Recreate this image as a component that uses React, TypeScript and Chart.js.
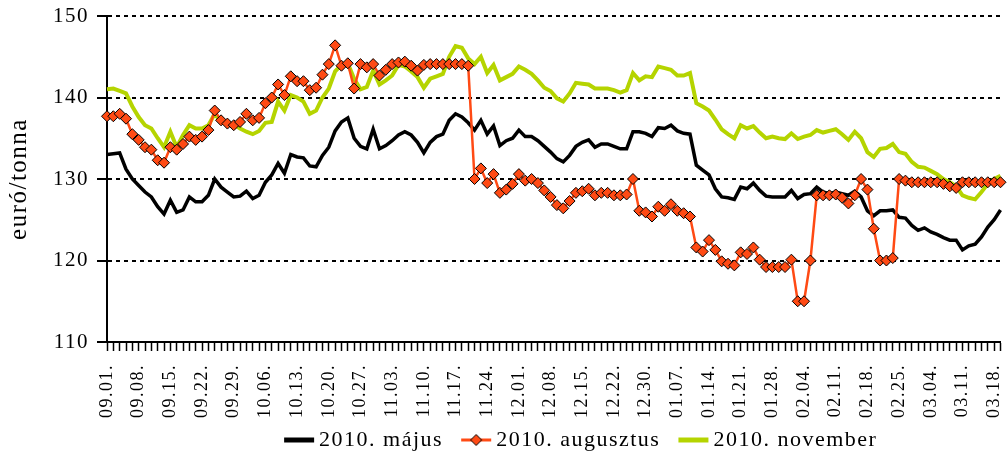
import React, { useEffect, useRef } from 'react';
import { Chart, registerables } from 'chart.js';

Chart.register(...registerables);

const tickLabels = ['09.01.','09.08.','09.15.','09.22.','09.29.','10.06.','10.13.','10.20.','10.27.','11.03.','11.10.','11.17.','11.24.','12.01.','12.08.','12.15.','12.22.','12.30.','01.07.','01.14.','01.21.','01.28.','02.04.','02.11.','02.18.','02.25.','03.04.','03.11.','03.18.'];

const seriesNames = ['2010. május', '2010. augusztus', '2010. november'];

const majus = [
133.0,133.1,133.2,131.2,130.0,129.2,128.4,127.8,126.6,125.7,
127.4,125.9,126.2,127.8,127.2,127.2,128.0,130.0,129.0,128.4,
127.8,127.9,128.5,127.6,128.0,129.6,130.5,131.9,130.7,133.0,
132.7,132.6,131.6,131.5,132.9,133.9,135.9,137.0,137.5,135.0,
134.0,133.7,136.1,133.7,134.1,134.7,135.4,135.8,135.4,134.5,
133.2,134.5,135.2,135.5,137.2,138.0,137.6,136.9,136.0,137.2,
135.5,136.5,134.1,134.7,135.0,136.0,135.2,135.2,134.7,134.0,
133.3,132.5,132.1,132.9,134.0,134.5,134.8,133.9,134.3,134.3,
134.0,133.7,133.7,135.8,135.8,135.6,135.2,136.3,136.2,136.6,
135.9,135.6,135.5,131.7,131.1,130.5,128.8,127.8,127.7,127.5,
129.0,128.8,129.5,128.6,127.9,127.8,127.8,127.8,128.6,127.6,
128.1,128.2,129.0,128.4,128.2,128.4,128.2,128.0,128.5,127.8,
126.1,125.5,126.1,126.1,126.2,125.3,125.2,124.3,123.7,124.0,
123.5,123.2,122.8,122.5,122.5,121.3,121.8,122.0,122.9,124.1,
125.0,126.2];

const augusztus = [
137.7,137.7,138.0,137.4,135.5,134.8,133.9,133.6,132.3,132.0,
133.9,133.6,134.3,135.2,134.8,135.2,136.0,138.4,137.2,136.8,
136.6,137.0,138.0,137.2,137.5,139.3,140.0,141.6,140.3,142.6,
142.0,142.0,140.9,141.2,142.8,144.1,146.4,143.9,144.2,141.1,
144.1,143.7,144.1,142.7,143.4,144.1,144.3,144.4,143.9,143.3,
144.0,144.1,144.1,144.1,144.1,144.1,144.1,143.9,130.0,131.3,
129.5,130.6,128.3,128.7,129.4,130.6,129.8,130.0,129.5,128.6,
127.8,126.8,126.4,127.3,128.3,128.5,128.8,128.0,128.3,128.3,
128.0,128.0,128.1,130.0,126.1,125.9,125.4,126.6,126.1,126.9,
126.1,125.8,125.4,121.6,121.1,122.5,121.3,119.9,119.6,119.4,
121.0,120.8,121.6,120.1,119.2,119.2,119.2,119.2,120.1,115.0,
115.0,120.0,128.0,128.0,128.0,128.1,127.7,127.0,128.0,130.0,
128.7,123.9,120.0,120.0,120.3,130.0,129.8,129.6,129.6,129.6,
129.6,129.6,129.4,129.1,128.9,129.6,129.6,129.6,129.6,129.6,
129.6,129.6];

const november = [
141.0,141.1,140.8,140.5,138.9,137.6,136.6,136.2,135.0,133.9,
135.8,133.9,135.4,136.6,136.2,136.2,136.6,138.0,137.0,136.8,
136.7,136.2,135.8,135.5,135.9,136.9,137.0,139.5,138.4,140.3,
140.0,139.5,138.0,138.4,140.0,141.1,143.2,144.0,144.2,142.3,
141.0,141.3,143.3,141.6,142.1,142.7,144.0,143.8,143.2,142.5,
141.2,142.3,142.6,142.9,145.0,146.3,146.1,144.8,144.1,145.0,
143.0,144.0,142.1,142.5,142.9,143.8,143.4,142.9,142.1,141.2,
140.8,139.9,139.5,140.5,141.8,141.7,141.6,141.1,141.1,141.1,
140.9,140.6,140.9,143.0,142.1,142.6,142.5,143.8,143.6,143.4,
142.7,142.7,143.0,139.3,138.9,138.4,137.3,136.1,135.5,135.0,
136.6,136.2,136.5,135.7,135.0,135.2,135.0,134.9,135.6,134.9,
135.2,135.4,136.0,135.7,135.9,136.1,135.5,134.8,135.8,135.0,
133.3,132.7,133.7,133.8,134.3,133.3,133.1,132.1,131.5,131.4,
131.0,130.6,130.0,129.6,129.1,128.0,127.7,127.5,128.4,129.4,
130.0,130.4];

const LABEL_EVERY = 5;
const categories = majus.map((_, i) => (i % LABEL_EVERY === 0 ? tickLabels[i / LABEL_EVERY] ?? '' : ''));

const FONT = '"Liberation Serif", "Times New Roman", serif';
const BLACK = '#000000';
const ORANGE = '#ff4a14';
const GREEN = '#b5d400';

function swatch(color: string, width: number, diamond: boolean): HTMLCanvasElement {
  const c = document.createElement('canvas');
  c.width = 32;
  c.height = 16;
  const g = c.getContext('2d')!;
  g.strokeStyle = color;
  g.lineWidth = width;
  g.beginPath();
  g.moveTo(1, 8);
  g.lineTo(31, 8);
  g.stroke();
  if (diamond) {
    g.fillStyle = color;
    g.strokeStyle = '#000';
    g.lineWidth = 1;
    g.beginPath();
    g.moveTo(16, 2.5);
    g.lineTo(21.5, 8);
    g.lineTo(16, 13.5);
    g.lineTo(10.5, 8);
    g.closePath();
    g.fill();
    g.stroke();
  }
  return c;
}

const layoutPlugin = {
  id: 'refLayout',
  beforeUpdate(chart: any) {
    chart.ctx.letterSpacing = '1.5px';
  },
  afterLayout(chart: any) {
    // let the rotated date labels draw below the x scale box without being clipped
    const x = chart.scales.x;
    if (x) {
      x.bottom = chart.height;
      x.height = x.bottom - x.top;
    }
    // nudge the legend row to the right, as in the reference
    const lg = chart.legend;
    if (lg) {
      lg.left += 30;
      lg.right += 30;
    }
  },
  beforeDraw(chart: any) {
    chart.ctx.letterSpacing = '1.5px';
  },
};

export default function App() {
  const ref = useRef<HTMLCanvasElement | null>(null);

  useEffect(() => {
    if (!ref.current) return;
    const swatches = [swatch(BLACK, 5, false), swatch(ORANGE, 3, true), swatch(GREEN, 5, false)];
    const chart = new Chart(ref.current, {
      type: 'line',
      data: {
        labels: categories,
        datasets: [
          {
            label: seriesNames[0],
            data: majus,
            borderColor: BLACK,
            backgroundColor: BLACK,
            borderWidth: 3.5,
            pointRadius: 0,
            tension: 0,
            order: 2,
          },
          {
            label: seriesNames[1],
            data: augusztus,
            borderColor: ORANGE,
            backgroundColor: ORANGE,
            borderWidth: 2.5,
            pointStyle: 'rectRot',
            pointRadius: 5.5,
            pointBackgroundColor: ORANGE,
            pointBorderColor: '#000',
            pointBorderWidth: 1,
            tension: 0,
            order: 0,
            clip: false as any,
          },
          {
            label: seriesNames[2],
            data: november,
            borderColor: GREEN,
            backgroundColor: GREEN,
            borderWidth: 4,
            pointRadius: 0,
            tension: 0,
            order: 1,
          },
        ],
      },
      options: {
        responsive: false,
        animation: false,
        layout: { padding: { top: 16, right: 4, bottom: -8, left: 0 } },
        plugins: {
          tooltip: { enabled: false },
          legend: {
            position: 'bottom',
            fullSize: false,
            labels: {
              color: '#000',
              font: { family: FONT, size: 22 },
              usePointStyle: true,
              pointStyleWidth: 18,
              padding: 24,
              generateLabels: (c: any) => {
                const items = (Chart.defaults.plugins.legend.labels as any).generateLabels(c);
                return items
                  .sort((a: any, b: any) => a.datasetIndex - b.datasetIndex)
                  .map((it: any) => ({ ...it, pointStyle: swatches[it.datasetIndex], fontColor: '#000' }));
              },
            },
          },
        },
        scales: {
          x: {
            type: 'category',
            offset: false,
            grid: {
              drawOnChartArea: false,
              drawTicks: true,
              tickLength: 9,
              tickColor: '#000',
              tickWidth: 1.5,
            },
            border: { display: true, color: '#000', width: 2 },
            ticks: {
              autoSkip: false,
              minRotation: 90,
              maxRotation: 90,
              padding: 13,
              color: '#000',
              font: { family: FONT, size: 18 },
              callback: (_v: any, i: number) => categories[i],
            },
            afterFit: (s: any) => {
              s.height = 63;
              s.paddingLeft = 0;
              s.paddingRight = 0;
            },
          },
          y: {
            min: 110,
            max: 150,
            grid: {
              color: (ctx: any) => (ctx.tick && ctx.tick.value === 110 ? 'rgba(0,0,0,0)' : '#000'),
              lineWidth: 2,
              drawTicks: true,
              tickLength: 10,
              tickColor: '#000',
              tickWidth: 2,
            },
            border: { display: true, color: '#000', width: 2, dash: [4, 4] },
            ticks: {
              stepSize: 10,
              padding: 8,
              color: '#000',
              font: { family: FONT, size: 21 },
            },
            title: {
              display: true,
              text: 'euró/tonna',
              color: '#000',
              font: { family: FONT, size: 25 },
              padding: { top: 4, bottom: 0 },
            },
            afterFit: (s: any) => {
              s.width = 107;
              s.paddingTop = 0;
              s.paddingBottom = 0;
            },
          },
        },
      } as any,
      plugins: [layoutPlugin],
    });
    return () => chart.destroy();
  }, []);

  return (
    <div style={{ position: 'fixed', left: 0, top: 0, width: 1007, height: 453, background: '#fff' }}>
      <canvas ref={ref} width={1007} height={453} style={{ display: 'block' }} />
    </div>
  );
}
